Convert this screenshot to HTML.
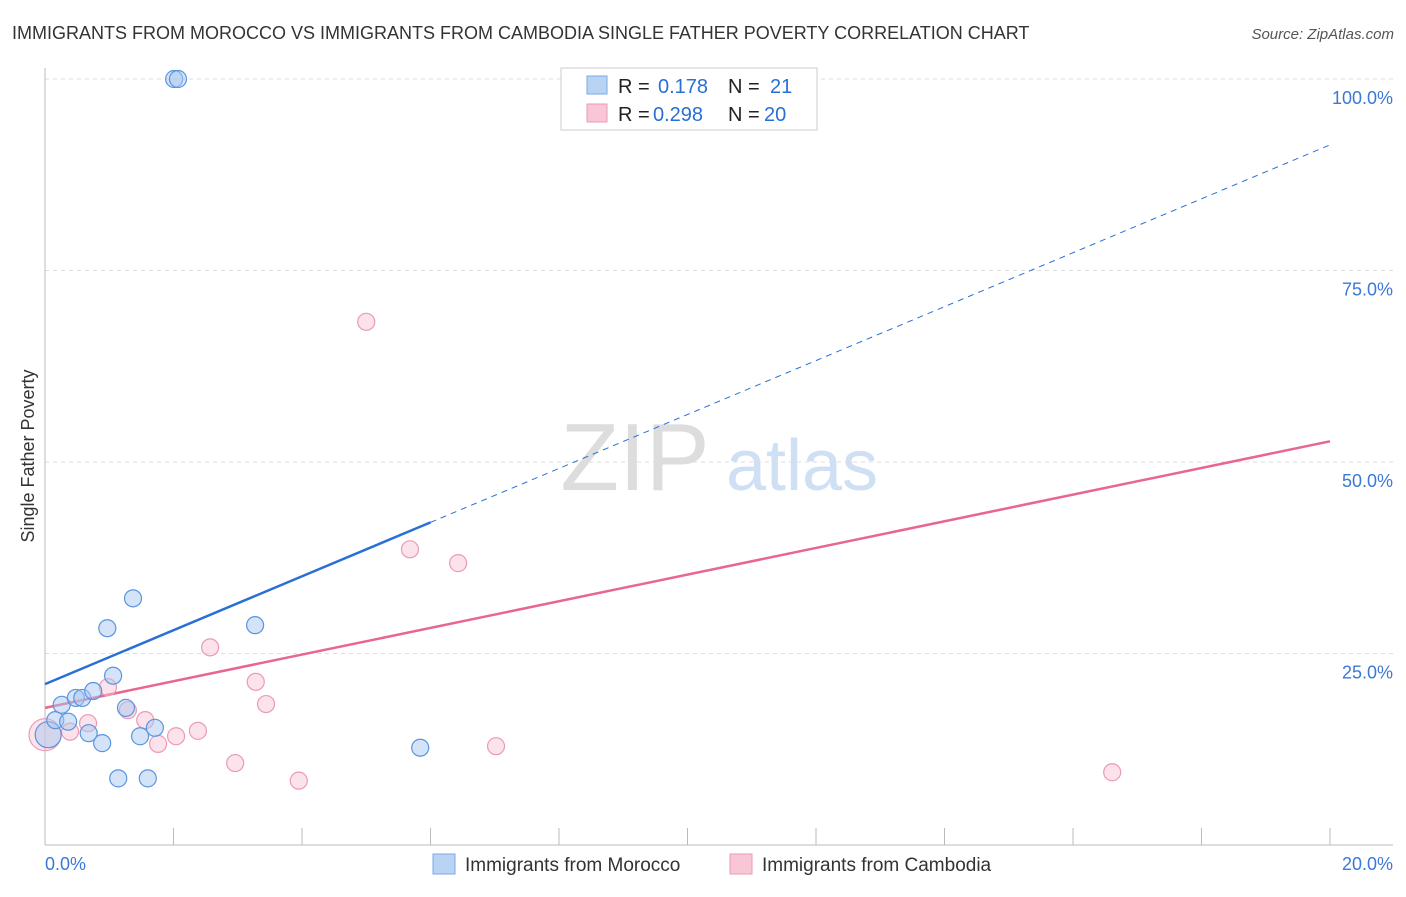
<!DOCTYPE html>
<html><head><meta charset="utf-8"><style>
body{margin:0;background:#fff;font-family:"Liberation Sans",sans-serif;}
svg text{font-family:"Liberation Sans",sans-serif;}
</style></head><body>
<svg id="c" width="1406" height="892">
<text x="12" y="39" font-size="18" fill="#333">IMMIGRANTS FROM MOROCCO VS IMMIGRANTS FROM CAMBODIA SINGLE FATHER POVERTY CORRELATION CHART</text>
<text x="1394" y="39" font-size="15" fill="#555" font-style="italic" text-anchor="end">Source: ZipAtlas.com</text>
<text x="34" y="456" font-size="18" fill="#333" transform="rotate(-90 34 456)" text-anchor="middle">Single Father Poverty</text>
<g><text x="635" y="490" font-size="96" fill="#ddd" font-family="Liberation Serif" text-anchor="middle">ZIP</text><text x="802" y="490" font-size="72" fill="#cfe0f5" text-anchor="middle">atlas</text></g>
<g id="grid"></g><g id="lines"></g><g id="pts"></g>
<g>
<rect x="561" y="68" width="256" height="62" fill="#fff" stroke="#ccc"/>
<rect x="587" y="76" width="20" height="18" fill="#b9d3f5" stroke="#7aaae6"/>
<rect x="587" y="104" width="20" height="18" fill="#f9c6d6" stroke="#eb9ab5"/>
<text x="618" y="93" font-size="20" fill="#222">R = </text><text x="658" y="93" font-size="20" fill="#2a6fd6">0.178</text>
<text x="728" y="93" font-size="20" fill="#222">N = </text><text x="770" y="93" font-size="20" fill="#2a6fd6">21</text>
<text x="618" y="121" font-size="20" fill="#222">R = </text><text x="653" y="121" font-size="20" fill="#2a6fd6">0.298</text>
<text x="728" y="121" font-size="20" fill="#222">N = </text><text x="764" y="121" font-size="20" fill="#2a6fd6">20</text>
</g>
<g>
<rect x="433" y="854" width="22" height="20" fill="#b9d3f5" stroke="#7aaae6"/>
<text x="465" y="871" font-size="19" fill="#333">Immigrants from Morocco</text>
<rect x="730" y="854" width="22" height="20" fill="#f9c6d6" stroke="#eb9ab5"/>
<text x="762" y="871" font-size="19" fill="#333">Immigrants from Cambodia</text>
</g>
</svg>
<script>
const xTickLabels=["0.0%","20.0%"];
const yTicks=[25,50,75,100];
const yTickLabels=["25.0%","50.0%","75.0%","100.0%"];
const moroccoX=[0.05,0.16,0.26,0.36,0.48,0.58,0.68,0.75,0.89,0.97,1.06,1.14,1.26,1.37,1.48,1.60,1.71,2.01,2.07,3.27,5.84];
const moroccoY=[14.4,16.3,18.3,16.1,19.2,19.2,14.6,20.1,13.3,28.3,22.1,8.7,17.9,32.2,14.2,8.7,15.3,100,100,28.7,12.7];
const cambodiaX=[0,0.39,0.67,0.98,1.29,1.56,1.76,2.04,2.38,2.57,2.96,3.28,3.44,3.95,5.00,5.68,6.43,7.02,9.01,16.61];
const cambodiaY=[14.4,14.8,15.9,20.6,17.6,16.3,13.2,14.2,14.9,25.8,10.7,21.3,18.4,8.4,68.3,38.6,36.8,12.9,100,9.5];
const moroccoTrend=[21.0,91.4]; // at x=0 and x=20
const moroccoSolidEnd=6.0;
const cambodiaTrend=[17.9,52.7];
const NS="http://www.w3.org/2000/svg";
const X0=45,X1=1330,Y0=845,Y100=79;
const sx=v=>X0+v/20*(X1-X0), sy=v=>Y0-v/100*(Y0-Y100);
function mk(p,t,a){const e=document.createElementNS(NS,t);for(const k in a)e.setAttribute(k,a[k]);p.appendChild(e);return e;}
const g=document.getElementById('grid');
yTicks.forEach((t,i)=>{
 const l=mk(g,'line',{x1:X0,x2:1393,y1:sy(t),y2:sy(t),stroke:'#ddd','stroke-dasharray':'4,4'});
 
 
 const tx=mk(g,'text',{x:1393,y:sy(t)+25,'font-size':18,fill:'#3b78d8','text-anchor':'end'});tx.textContent=yTickLabels[i];
 
 
});
mk(g,'line',{x1:X0,x2:X0,y1:68,y2:Y0,stroke:'#bbb'});
mk(g,'line',{x1:X0,x2:1393,y1:Y0,y2:Y0,stroke:'#bbb'});
for(let i=0;i<=10;i++){mk(g,'line',{x1:sx(i*2),x2:sx(i*2),y1:828,y2:Y0,stroke:'#bbb'});}
[[X0,'start',0],[1393,'end',1]].forEach(([x,a,i])=>{const t=mk(g,'text',{x:x,y:870,'font-size':18,fill:'#3b78d8','text-anchor':a});t.textContent=xTickLabels[i];
 
 });
const L=document.getElementById('lines');
const ty=(tr,x)=>tr[0]+(tr[1]-tr[0])*x/20;
let e=mk(L,'line',{x1:sx(moroccoSolidEnd),y1:sy(ty(moroccoTrend,moroccoSolidEnd)),x2:sx(20),y2:sy(ty(moroccoTrend,20)),stroke:'#2a6fd6','stroke-width':1,'stroke-dasharray':'6,5'});


e=mk(L,'line',{x1:sx(0),y1:sy(ty(moroccoTrend,0)),x2:sx(moroccoSolidEnd),y2:sy(ty(moroccoTrend,moroccoSolidEnd)),stroke:'#2a6fd6','stroke-width':2.5});


e=mk(L,'line',{x1:sx(0),y1:sy(cambodiaTrend[0]),x2:sx(20),y2:sy(cambodiaTrend[1]),stroke:'#e8668f','stroke-width':2.5});


const P=document.getElementById('pts');
cambodiaX.forEach((x,i)=>{const c=mk(P,'circle',{cx:sx(x),cy:sy(cambodiaY[i]),r:i==0?16:8.5,fill:'rgba(249,190,210,0.45)',stroke:'#eb9ab5','stroke-width':1.2});
 
 });
moroccoX.forEach((x,i)=>{const c=mk(P,'circle',{cx:sx(x),cy:sy(moroccoY[i]),r:i==0?13:8.5,fill:'rgba(170,200,240,0.5)',stroke:'#5a95e0','stroke-width':1.2});
 
 });
</script>
</body></html>
